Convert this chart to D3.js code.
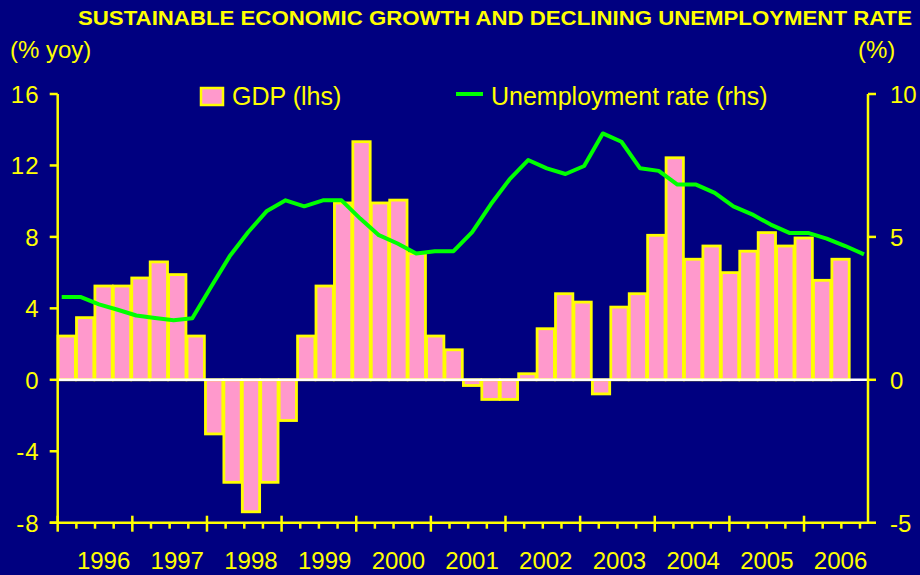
<!DOCTYPE html>
<html>
<head>
<meta charset="utf-8">
<script src="https://cdn.jsdelivr.net/npm/d3@7"></script>
<style>
    body { margin: 0; background: #000080; }
    text { font-family: Arial, "Liberation Sans", sans-serif; fill: #ffff00; }
</style>
</head>
<body>
<svg id="chart" width="920" height="575"></svg>
<script>
// data
const years = ['1996', '1997', '1998', '1999', '2000', '2001', '2002', '2003', '2004', '2005', '2006'];
const quarters = [];
years.forEach(y => ['Q1', 'Q2', 'Q3', 'Q4'].forEach(q => quarters.push(y + q)));

// GDP growth, % yoy (no figure yet for 2006Q4)
const gdp = [2.45, 3.48, 5.25, 5.25, 5.70, 6.60, 5.89, 2.45,
    -3.03, -5.74, -7.39, -5.74, -2.28, 2.45, 5.25, 9.90,
    13.33, 9.90, 10.06, 7.07, 2.45, 1.68, -0.32, -1.10,
    -1.10, 0.34, 2.86, 4.82, 4.35, -0.79, 4.07, 4.82,
    8.09, 12.43, 6.75, 7.49, 6.00, 7.20, 8.24, 7.49,
    7.94, 5.57, 6.75];

// unemployment rate, %
const unemp = [2.90, 2.90, 2.64, 2.45, 2.25, 2.16, 2.08, 2.15,
    3.25, 4.32, 5.17, 5.91, 6.28, 6.07, 6.28, 6.28,
    5.64, 5.06, 4.77, 4.42, 4.50, 4.50, 5.17, 6.14,
    7.01, 7.69, 7.40, 7.20, 7.48, 8.62, 8.33, 7.40,
    7.31, 6.83, 6.83, 6.54, 6.07, 5.79, 5.43, 5.14,
    5.14, 4.94, 4.68, 4.39];

const leftTicks = [-8, -4, 0, 4, 8, 12, 16];
const rightTicks = [-5, 0, 5, 10];

const yellow = '#ffff00';
const svg = d3.select('#chart');

let xLeft = 57.7, xRight = 868, yTop = 94, yBottom = 522.7;

// scales
let xBar = d3.scaleBand()
    .domain(quarters)
    .range([xLeft, xRight])
    .paddingInner(0.06)
    .paddingOuter(0.02);

let xLine = d3.scalePoint()
    .domain(quarters)
    .range([61.7, 864]);

let yL = d3.scaleLinear().domain([-8, 16]).range([yBottom, yTop]);
let yR = d3.scaleLinear().domain([-5, 10]).range([yBottom, yTop]);

// title
svg.append('text')
    .attr('x', 78)
    .attr('y', 25)
    .attr('textLength', 834)
    .attr('lengthAdjust', 'spacingAndGlyphs')
    .style('font-size', '21px')
    .style('font-weight', 'bold')
    .text('SUSTAINABLE ECONOMIC GROWTH AND DECLINING UNEMPLOYMENT RATE');

// unit labels
svg.append('text')
    .attr('x', 10).attr('y', 58)
    .style('font-size', '24px')
    .text('(% yoy)');

svg.append('text')
    .attr('x', 858).attr('y', 58)
    .style('font-size', '24px')
    .text('(%)');

// bars
svg.append('g')
    .selectAll('rect')
    .data(gdp)
    .join('rect')
    .attr('x', (d, i) => xBar(quarters[i]))
    .attr('width', xBar.bandwidth())
    .attr('y', d => yL(Math.max(0, d)))
    .attr('height', d => Math.abs(yL(d) - yL(0)))
    .style('fill', '#ff99cc')
    .style('stroke', yellow)
    .style('stroke-width', 2.8);

// zero line
svg.append('line')
    .attr('x1', xLeft).attr('x2', xRight)
    .attr('y1', yL(0)).attr('y2', yL(0))
    .style('stroke', '#ffffff')
    .style('stroke-width', 2.5);

// unemployment line
let line = d3.line()
    .x((d, i) => xLine(quarters[i]))
    .y(d => yR(d));

svg.append('path')
    .datum(unemp)
    .attr('d', line)
    .style('fill', 'none')
    .style('stroke', '#00ff00')
    .style('stroke-width', 4)
    .style('stroke-linejoin', 'round');

// left axis
let axisL = svg.append('g');
axisL.append('line')
    .attr('x1', xLeft).attr('x2', xLeft)
    .attr('y1', yTop).attr('y2', yBottom)
    .style('stroke', yellow).style('stroke-width', 2.5);
axisL.selectAll('line.tk')
    .data(leftTicks)
    .join('line')
    .attr('class', 'tk')
    .attr('x1', xLeft - 8).attr('x2', xLeft)
    .attr('y1', d => yL(d)).attr('y2', d => yL(d))
    .style('stroke', yellow).style('stroke-width', 2.5);
axisL.selectAll('text')
    .data(leftTicks)
    .join('text')
    .attr('x', 39.5)
    .attr('y', d => yL(d) + 9)
    .attr('text-anchor', 'end')
    .style('font-size', '24px')
    .style('letter-spacing', '1px')
    .text(d => d);

// right axis
let axisR = svg.append('g');
axisR.append('line')
    .attr('x1', xRight).attr('x2', xRight)
    .attr('y1', yTop).attr('y2', yBottom)
    .style('stroke', yellow).style('stroke-width', 2.5);
axisR.selectAll('line.tk')
    .data(rightTicks)
    .join('line')
    .attr('class', 'tk')
    .attr('x1', xRight).attr('x2', xRight + 8)
    .attr('y1', d => yR(d)).attr('y2', d => yR(d))
    .style('stroke', yellow).style('stroke-width', 2.5);
axisR.selectAll('text')
    .data(rightTicks)
    .join('text')
    .attr('x', 890)
    .attr('y', d => yR(d) + 9)
    .style('font-size', '24px')
    .text(d => d);

// bottom axis, one tick per quarter, longer one at each year
let axisB = svg.append('g');
axisB.append('line')
    .attr('x1', xLeft - 8).attr('x2', xRight)
    .attr('y1', yBottom).attr('y2', yBottom)
    .style('stroke', yellow).style('stroke-width', 2.5);
axisB.selectAll('line.tk')
    .data(quarters)
    .join('line')
    .attr('class', 'tk')
    .attr('x1', d => xLine(d) - 4)
    .attr('x2', d => xLine(d) - 4)
    .attr('y1', (d, i) => i % 4 === 0 ? yBottom - 7 : yBottom)
    .attr('y2', (d, i) => i % 4 === 0 ? yBottom + 9 : yBottom + 6)
    .style('stroke', yellow).style('stroke-width', 2.5);
axisB.selectAll('text')
    .data(years)
    .join('text')
    .attr('x', (d, i) => xBar(quarters[i * 4 + 2]) + xBar.bandwidth() / 2)
    .attr('y', 569)
    .attr('text-anchor', 'middle')
    .style('font-size', '24px')
    .text(d => d);

// legend
let legend = svg.append('g');
legend.append('rect')
    .attr('x', 201).attr('y', 88)
    .attr('width', 22).attr('height', 17)
    .style('fill', '#ff99cc')
    .style('stroke', yellow)
    .style('stroke-width', 2.5);
legend.append('text')
    .attr('x', 232).attr('y', 105)
    .style('font-size', '25px')
    .text('GDP (lhs)');
legend.append('line')
    .attr('x1', 456).attr('x2', 483)
    .attr('y1', 94).attr('y2', 94)
    .style('stroke', '#00ff00')
    .style('stroke-width', 4);
legend.append('text')
    .attr('x', 491).attr('y', 105)
    .style('font-size', '25px')
    .text('Unemployment rate (rhs)');
</script>
</body>
</html>
